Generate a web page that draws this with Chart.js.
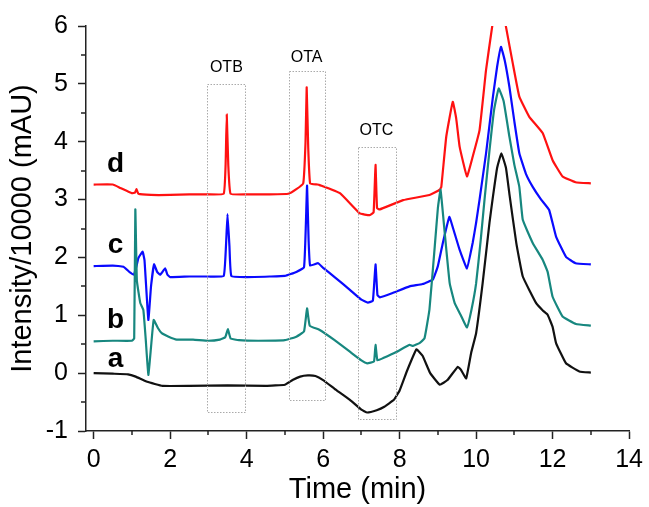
<!DOCTYPE html>
<html>
<head>
<meta charset="utf-8">
<script src="https://cdn.jsdelivr.net/npm/chart.js@4"></script>
<style>
    html, body { margin: 0; padding: 0; background: #fff; }
    #wrap { width: 649px; height: 507px; }
</style>
</head>
<body>
<div id="wrap"><canvas id="myChart" width="649" height="507"></canvas></div>
<script>
// curve a (black)
const aTime = [0, 0.5, 0.9, 1.1, 1.4, 1.8, 2.5, 3.5, 4.5, 5.0, 5.2, 5.4, 5.6, 5.8, 6.0, 6.3, 6.7, 7.0, 7.15, 7.4, 7.6, 7.85, 8.0, 8.2, 8.44, 8.6, 8.8, 9.05, 9.25, 9.52, 9.6, 9.74, 9.87, 10.0, 10.17, 10.35, 10.44, 10.55, 10.66, 10.78, 10.87, 11.05, 11.22, 11.57, 11.75, 11.87, 12.0, 12.09, 12.35, 12.7, 13.0];
const aValue = [0, -0.01, -0.02, -0.06, -0.15, -0.22, -0.22, -0.21, -0.22, -0.2, -0.12, -0.06, -0.04, -0.05, -0.12, -0.27, -0.46, -0.63, -0.68, -0.64, -0.58, -0.46, -0.3, 0.05, 0.41, 0.3, 0.0, -0.2, -0.12, 0.11, 0.06, -0.09, 0.35, 0.69, 1.55, 2.6, 3.05, 3.55, 3.8, 3.55, 3.1, 2.25, 1.67, 1.21, 1.08, 1.01, 0.8, 0.52, 0.17, 0.03, 0.01];

// curve b (teal)
const bTime = [0, 0.5, 1.0, 1.06, 1.09, 1.13, 1.22, 1.3, 1.36, 1.43, 1.5, 1.57, 1.68, 1.78, 1.96, 2.17, 2.6, 3.0, 3.3, 3.44, 3.51, 3.58, 3.8, 4.3, 5.0, 5.3, 5.5, 5.58, 5.65, 5.9, 6.3, 6.7, 7.0, 7.15, 7.33, 7.37, 7.42, 7.57, 7.9, 8.26, 8.35, 8.52, 8.65, 8.78, 8.92, 9.0, 9.07, 9.18, 9.31, 9.44, 9.6, 9.76, 9.88, 10.0, 10.12, 10.22, 10.35, 10.47, 10.59, 10.72, 10.87, 11.0, 11.13, 11.22, 11.48, 11.74, 11.87, 12.0, 12.26, 12.61, 13.0];
const bValue = [0.55, 0.56, 0.56, 0.6, 2.83, 1.6, 1.21, 1.09, 0.6, -0.03, 0.45, 0.92, 0.78, 0.69, 0.63, 0.58, 0.58, 0.56, 0.58, 0.62, 0.76, 0.6, 0.57, 0.56, 0.57, 0.63, 0.72, 1.12, 0.82, 0.75, 0.57, 0.37, 0.22, 0.17, 0.2, 0.49, 0.22, 0.26, 0.36, 0.49, 0.47, 0.52, 0.6, 1.1, 2.2, 2.85, 3.17, 2.42, 1.55, 1.21, 1.0, 0.79, 1.1, 1.55, 2.3, 3.0, 3.85, 4.55, 4.92, 4.7, 4.09, 3.6, 3.22, 2.65, 2.25, 1.96, 1.75, 1.32, 0.98, 0.85, 0.82];

// curve c (blue)
const cTime = [0, 0.5, 0.78, 0.95, 1.05, 1.12, 1.17, 1.28, 1.33, 1.43, 1.5, 1.58, 1.66, 1.74, 1.87, 1.93, 2.0, 2.5, 3.0, 3.4, 3.46, 3.5, 3.55, 3.6, 4.0, 4.6, 5.0, 5.3, 5.5, 5.55, 5.58, 5.62, 5.66, 5.87, 6.0, 6.3, 6.7, 7.0, 7.17, 7.3, 7.37, 7.42, 7.48, 7.8, 8.26, 8.6, 8.87, 9.0, 9.13, 9.3, 9.4, 9.57, 9.76, 9.91, 10.0, 10.09, 10.26, 10.44, 10.55, 10.65, 10.75, 10.87, 11.0, 11.13, 11.3, 11.48, 11.7, 11.91, 12.09, 12.35, 12.6, 13.0];
const cValue = [1.85, 1.86, 1.84, 1.74, 1.7, 1.85, 1.99, 2.1, 1.95, 0.92, 1.5, 1.88, 1.75, 1.7, 1.81, 1.7, 1.66, 1.67, 1.67, 1.68, 2.2, 2.75, 2.2, 1.68, 1.66, 1.67, 1.68, 1.75, 1.83, 2.6, 3.24, 2.3, 1.86, 1.9, 1.82, 1.66, 1.44, 1.27, 1.22, 1.25, 1.88, 1.35, 1.31, 1.38, 1.5, 1.54, 1.62, 1.85, 2.25, 2.7, 2.5, 2.13, 1.81, 2.25, 2.6, 3.0, 3.8, 4.78, 5.3, 5.64, 5.4, 4.95, 4.35, 3.8, 3.45, 3.22, 3.0, 2.82, 2.36, 2.01, 1.9, 1.88];

// curve d (red)
const dTime = [0, 0.5, 0.7, 1.0, 1.08, 1.12, 1.17, 1.5, 2.0, 2.5, 3.0, 3.4, 3.45, 3.48, 3.52, 3.58, 4.0, 4.6, 5.09, 5.3, 5.48, 5.54, 5.57, 5.61, 5.66, 5.85, 5.91, 6.44, 6.96, 7.22, 7.32, 7.37, 7.41, 7.48, 8.09, 8.78, 9.05, 9.09, 9.22, 9.39, 9.48, 9.57, 9.76, 9.91, 10.09, 10.26, 10.42, 10.6, 10.78, 10.96, 11.13, 11.39, 11.74, 12.0, 12.26, 12.6, 13.0];
const dValue = [3.26, 3.26, 3.2, 3.11, 3.12, 3.18, 3.1, 3.08, 3.08, 3.09, 3.09, 3.1, 3.6, 4.47, 3.6, 3.1, 3.09, 3.09, 3.1, 3.18, 3.28, 4.0, 4.94, 3.9, 3.28, 3.26, 3.25, 3.11, 2.76, 2.73, 2.78, 3.6, 2.85, 2.83, 2.99, 3.08, 3.17, 3.22, 4.09, 4.69, 4.4, 3.91, 3.4, 3.74, 4.2, 5.24, 5.99, 6.7, 5.99, 5.35, 4.78, 4.43, 4.15, 3.68, 3.4, 3.3, 3.28];

const xTicks = [0, 2, 4, 6, 8, 10, 12, 14];
const yTicks = [-1, 0, 1, 2, 3, 4, 5, 6];

function toPoints(times, values) {
    return times.map((t, i) => ({ x: t, y: values[i] }));
}

const tickFont = { family: "'Liberation Sans', Arial, sans-serif", size: 25 };
const titleFont = { family: "'Liberation Sans', Arial, sans-serif", size: 29 };

// dotted boxes, their labels, curve letters and minor ticks
const extras = {
    id: "extras",
    afterDatasetsDraw(chart) {
        const ctx = chart.ctx;
        const x = chart.scales.x;
        const y = chart.scales.y;

        const boxes = [
            [2.97, 3.97, -0.67, 5.0, "OTB", 5.2],
            [5.1, 6.04, -0.46, 5.22, "OTA", 5.38],
            [6.9, 7.89, -0.8, 3.9, "OTC", 4.12],
        ];
        ctx.save();
        ctx.strokeStyle = "#aaaaaa";
        ctx.lineWidth = 1;
        ctx.setLineDash([1.5, 1.5]);
        boxes.forEach((b) => {
            const l = x.getPixelForValue(b[0]);
            const r = x.getPixelForValue(b[1]);
            const bt = y.getPixelForValue(b[2]);
            const tp = y.getPixelForValue(b[3]);
            ctx.strokeRect(Math.round(l) + 0.5, Math.round(tp) + 0.5, Math.round(r - l), Math.round(bt - tp));
        });
        ctx.setLineDash([]);
        ctx.fillStyle = "#000";
        ctx.font = "16px 'Liberation Sans', Arial, sans-serif";
        ctx.textAlign = "center";
        ctx.textBaseline = "alphabetic";
        boxes.forEach((b) => {
            ctx.fillText(b[4], x.getPixelForValue((b[0] + b[1]) / 2), y.getPixelForValue(b[5]));
        });

        ctx.font = "bold 28px 'Liberation Sans', Arial, sans-serif";
        const letters = [["d", 3.48], ["c", 2.08], ["b", 0.78], ["a", 0.11]];
        letters.forEach((lt) => {
            ctx.fillText(lt[0], x.getPixelForValue(0.57), y.getPixelForValue(lt[1]));
        });

        // minor ticks
        ctx.strokeStyle = "#222";
        ctx.lineWidth = 1.5;
        const bottom = chart.chartArea.bottom;
        const left = chart.chartArea.left;
        ctx.beginPath();
        for (let v = 1; v < 14; v += 2) {
            const px = Math.round(x.getPixelForValue(v));
            ctx.moveTo(px, bottom);
            ctx.lineTo(px, bottom + 4);
        }
        for (let v = -0.5; v < 6; v += 1) {
            const py = Math.round(y.getPixelForValue(v));
            ctx.moveTo(left, py);
            ctx.lineTo(left - 5, py);
        }
        ctx.stroke();
        ctx.restore();
    },
};

const ctx = document.getElementById("myChart");

new Chart(ctx, {
    type: "line",
    data: {
        datasets: [
            { label: "a", data: toPoints(aTime, aValue), borderColor: "#111111" },
            { label: "b", data: toPoints(bTime, bValue), borderColor: "#17877f" },
            { label: "c", data: toPoints(cTime, cValue), borderColor: "#0a0aff" },
            { label: "d", data: toPoints(dTime, dValue), borderColor: "#ff1111" },
        ],
    },
    options: {
        responsive: false,
        animation: false,
        elements: {
            point: { radius: 0 },
            line: { borderWidth: 2.2, tension: 0.1 },
        },
        layout: {
            padding: { top: 26, right: 19, left: 0, bottom: 0 },
        },
        plugins: {
            legend: { display: false },
            tooltip: { enabled: false },
        },
        scales: {
            x: {
                type: "linear",
                min: -0.2,
                max: 14,
                afterBuildTicks: (scale) => {
                    scale.ticks = xTicks.map((v) => ({ value: v }));
                },
                afterFit: (scale) => {
                    scale.height = 76;
                },
                ticks: {
                    font: tickFont,
                    color: "#000",
                    padding: 6,
                    maxRotation: 0,
                    callback: (v) => String(v),
                },
                grid: {
                    drawOnChartArea: false,
                    tickLength: 8,
                    tickColor: "#222",
                    tickWidth: 1.5,
                },
                border: { color: "#222", width: 1.5 },
                title: {
                    display: true,
                    text: "Time (min)",
                    font: titleFont,
                    color: "#000",
                    padding: { top: 0, bottom: 0 },
                },
            },
            y: {
                min: -1,
                max: 6,
                afterBuildTicks: (scale) => {
                    scale.ticks = yTicks.map((v) => ({ value: v }));
                },
                afterFit: (scale) => {
                    scale.width = 86;
                },
                ticks: {
                    font: tickFont,
                    color: "#000",
                    padding: 10,
                    callback: (v) => String(v),
                },
                grid: {
                    drawOnChartArea: false,
                    tickLength: 8,
                    tickColor: "#222",
                    tickWidth: 1.5,
                },
                border: { color: "#222", width: 1.5 },
                title: {
                    display: true,
                    text: "Intensity/10000 (mAU)",
                    font: titleFont,
                    color: "#000",
                    padding: { top: 6, bottom: 0 },
                },
            },
        },
    },
    plugins: [extras],
});
</script>
</body>
</html>
